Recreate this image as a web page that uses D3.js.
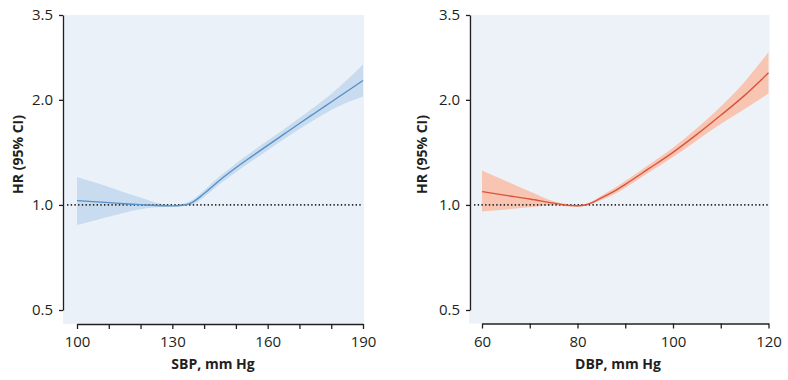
<!DOCTYPE html>
<html>
<head>
<meta charset="utf-8">
<script src="https://cdn.jsdelivr.net/npm/d3@7"></script>
<style>
  html, body { margin: 0; padding: 0; background: #ffffff; }
  svg { display: block; }
  text { font-family: "Open Sans", "Noto Sans", sans-serif; fill: #231f20; }
</style>
</head>
<body>
<svg id="chart" width="788" height="380"></svg>
<script>
// ---------- data ----------
const yTicks = [0.5, 1.0, 2.0, 3.5];

const sbpX  = [100, 105, 110, 115, 120, 125, 130, 133, 136, 140, 145, 150, 155, 160, 165, 170, 175, 180, 185, 190];
const sbpHR = [1.029, 1.022, 1.015, 1.008, 1.002, 0.996, 0.994, 0.998, 1.014, 1.078, 1.179, 1.278, 1.377, 1.481, 1.592, 1.711, 1.837, 1.972, 2.117, 2.272];
const sbpLo = [0.876, 0.900, 0.925, 0.950, 0.972, 0.985, 0.988, 0.992, 1.0, 1.054, 1.149, 1.241, 1.335, 1.435, 1.540, 1.650, 1.759, 1.870, 1.964, 2.045];
const sbpHi = [1.203, 1.165, 1.125, 1.085, 1.05, 1.015, 1.0, 1.006, 1.030, 1.102, 1.210, 1.315, 1.420, 1.530, 1.645, 1.774, 1.917, 2.079, 2.282, 2.523];
const sbpTicks  = [100, 110, 120, 130, 140, 150, 160, 170, 180, 190];
const sbpLabels = [100, 130, 160, 190];

const dbpX  = [60, 65, 70, 75, 78, 80, 82, 85, 88, 90, 95, 100, 105, 110, 115, 120];
const dbpHR = [1.092, 1.065, 1.040, 1.012, 0.997, 0.995, 1.003, 1.047, 1.100, 1.145, 1.272, 1.414, 1.592, 1.806, 2.060, 2.390];
const dbpLo = [0.957, 0.971, 0.985, 0.998, 0.99, 0.988, 0.997, 1.033, 1.079, 1.120, 1.240, 1.371, 1.530, 1.704, 1.883, 2.084];
const dbpHi = [1.254, 1.171, 1.093, 1.025, 1.005, 1.0, 1.009, 1.062, 1.123, 1.170, 1.306, 1.459, 1.658, 1.913, 2.254, 2.741];
const dbpTicks  = [60, 70, 80, 90, 100, 110, 120];
const dbpLabels = [60, 80, 100, 120];

const yTitle = "HR (95% CI)";

// ---------- panels (layout) ----------
const panels = [
  {
    x: sbpX, hr: sbpHR, lo: sbpLo, hi: sbpHi, ticks: sbpTicks, labels: sbpLabels,
    title: "SBP, mm Hg",
    yAxisX: 63, xRange: [77, 363], bg: [63, 364, 15, 324], xAxisY: 324,
    yTitleX: 23, xTitleX: 213,
    band: "#c9dcef", line: "#5590c8", bgFill: "#eaf1f9"
  },
  {
    x: dbpX, hr: dbpHR, lo: dbpLo, hi: dbpHi, ticks: dbpTicks, labels: dbpLabels,
    title: "DBP, mm Hg",
    yAxisX: 470, xRange: [482, 768.5], bg: [469, 769.5, 15, 323.5], xAxisY: 323.5,
    yTitleX: 427, xTitleX: 618,
    band: "#f9c5b3", line: "#d9543c", bgFill: "#ecf2f8"
  }
];

const svg = d3.select("#chart");
const y = d3.scaleLog().domain([0.5, 3.5]).range([310, 15]);

panels.forEach(p => {
  const g = svg.append("g");
  const x = d3.scaleLinear().domain([p.x[0], p.x[p.x.length - 1]]).range(p.xRange);
  const pts = p.x.map((v, i) => ({ x: v, hr: p.hr[i], lo: p.lo[i], hi: p.hi[i] }));

  // background
  g.append("rect")
    .attr("x", p.bg[0]).attr("y", p.bg[2])
    .attr("width", p.bg[1] - p.bg[0]).attr("height", p.bg[3] - p.bg[2])
    .attr("fill", p.bgFill);

  // CI band
  g.append("path").datum(pts)
    .attr("fill", p.band)
    .attr("d", d3.area().curve(d3.curveMonotoneX)
      .x(d => x(d.x)).y0(d => y(d.lo)).y1(d => y(d.hi)));

  // reference line at HR = 1
  g.append("line")
    .attr("x1", p.yAxisX + 4).attr("x2", p.xRange[1])
    .attr("y1", y(1)).attr("y2", y(1))
    .attr("stroke", "#2a2a2a").attr("stroke-width", 1.6)
    .attr("stroke-dasharray", "1.4,2.3");

  // HR line
  g.append("path").datum(pts)
    .attr("fill", "none").attr("stroke", p.line).attr("stroke-width", 1.4)
    .attr("d", d3.line().curve(d3.curveMonotoneX).x(d => x(d.x)).y(d => y(d.hr)));

  // y axis
  const ya = g.append("g").attr("transform", `translate(${p.yAxisX},0)`)
    .call(d3.axisLeft(y).tickValues(yTicks).tickFormat(d3.format(".1f"))
      .tickSize(4).tickSizeOuter(0).tickPadding(6));
  ya.select(".domain").attr("stroke", "#231f20").attr("stroke-width", 1.3);
  ya.selectAll(".tick line").attr("stroke", "#231f20").attr("stroke-width", 1.3);
  ya.selectAll(".tick text").style("font-size", "15px").attr("fill", "#231f20");

  // x axis
  const xa = g.append("g").attr("transform", `translate(0,${p.xAxisY})`)
    .call(d3.axisBottom(x).tickValues(p.ticks)
      .tickFormat(d => p.labels.includes(d) ? d : "")
      .tickSize(5).tickSizeOuter(0).tickPadding(7.5));
  xa.select(".domain").attr("stroke", "#231f20").attr("stroke-width", 1.3);
  xa.selectAll(".tick line").attr("stroke", "#231f20").attr("stroke-width", 1.3);
  xa.selectAll(".tick text").style("font-size", "15px").attr("fill", "#231f20");

  // axis titles
  g.append("text")
    .attr("transform", `translate(${p.yTitleX},${(15 + 310) / 2 - 8}) rotate(-90)`)
    .attr("text-anchor", "middle")
    .style("font-size", "14px").style("font-weight", "bold")
    .text(yTitle);
  g.append("text")
    .attr("x", p.xTitleX).attr("y", 369)
    .attr("text-anchor", "middle")
    .style("font-size", "14px").style("font-weight", "bold")
    .text(p.title);
});
</script>
</body>
</html>
